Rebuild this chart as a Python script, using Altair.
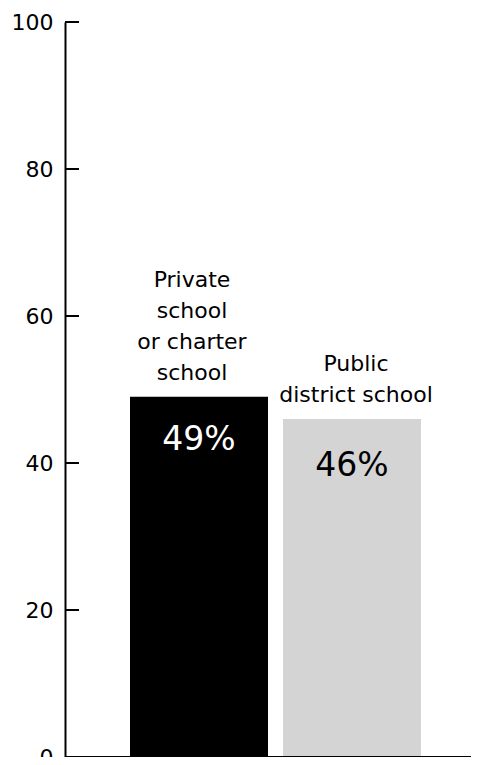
import altair as alt
import pandas as pd

categories = ["Private school or charter school", "Public district school"]
label_lines = ["Private\nschool\nor charter\nschool", "Public\ndistrict school"]
values = [49, 46]
value_labels = ["49%", "46%"]
bar_colors = ["#000000", "#d4d4d4"]
text_colors = ["#ffffff", "#000000"]
y_ticks = [0, 20, 40, 60, 80, 100]

df = pd.DataFrame({
    "cat": categories,
    "lines": label_lines,
    "value": values,
    "vlabel": value_labels,
})
ticks_df = pd.DataFrame({"t": y_ticks})

FONT = "DejaVu Sans"
W, H = 406, 735

xscale = alt.Scale(domain=categories, range=[65, 356], paddingInner=0.098, paddingOuter=0)
yscale = alt.Scale(domain=[0, 100], nice=False)

base = alt.Chart(df)

bars = base.mark_bar().encode(
    x=alt.X("cat:N", scale=xscale, axis=None, sort=categories),
    y=alt.Y("value:Q", scale=yscale,
            axis=alt.Axis(values=y_ticks, ticks=False, grid=False, domain=True,
                          domainColor="black", domainWidth=2, labelPadding=12,
                          labelFont=FONT, labelFontSize=22, labelColor="black",
                          title=None)),
    color=alt.Color("cat:N", scale=alt.Scale(domain=categories, range=bar_colors), legend=None),
)

# per-category offsets for the in-bar value labels and the category labels
val_dy = [43, 47]
cat_dx = [-7, 4]
cat_dy = [-110, -48]

layers = [bars]
for i, c in enumerate(categories):
    sub = base.transform_filter(alt.datum.cat == c)
    layers.append(
        sub.mark_text(font=FONT, fontSize=33, baseline="middle", dy=val_dy[i],
                      color=text_colors[i]).encode(
            x=alt.X("cat:N", scale=xscale, sort=categories),
            y=alt.Y("value:Q", scale=yscale),
            text="vlabel:N",
        )
    )
    layers.append(
        sub.mark_text(font=FONT, fontSize=22, baseline="alphabetic", lineBreak="\n",
                      lineHeight=31, dx=cat_dx[i], dy=cat_dy[i], color="black").encode(
            x=alt.X("cat:N", scale=xscale, sort=categories),
            y=alt.Y("value:Q", scale=yscale),
            text="lines:N",
        )
    )

tick_marks = alt.Chart(ticks_df).mark_rule(color="black", strokeWidth=2).encode(
    y=alt.Y("t:Q", scale=yscale),
    x=alt.value(0),
    x2=alt.value(14),
)

baseline_rule = alt.Chart(pd.DataFrame({"z": [0]})).mark_rule(color="black", strokeWidth=2).encode(
    y=alt.Y("z:Q", scale=yscale),
    x=alt.value(0),
    x2=alt.value(W),
)

layers += [tick_marks, baseline_rule]

chart = alt.layer(*layers).resolve_scale(
    color="independent"
).properties(
    width=W, height=H,
    autosize=alt.AutoSizeParams(type="none"),
    padding={"left": 57, "top": 14, "right": 0, "bottom": 0},
).configure_view(stroke=None)

chart.save("out.html", embed_options={"renderer": "svg", "actions": False})
